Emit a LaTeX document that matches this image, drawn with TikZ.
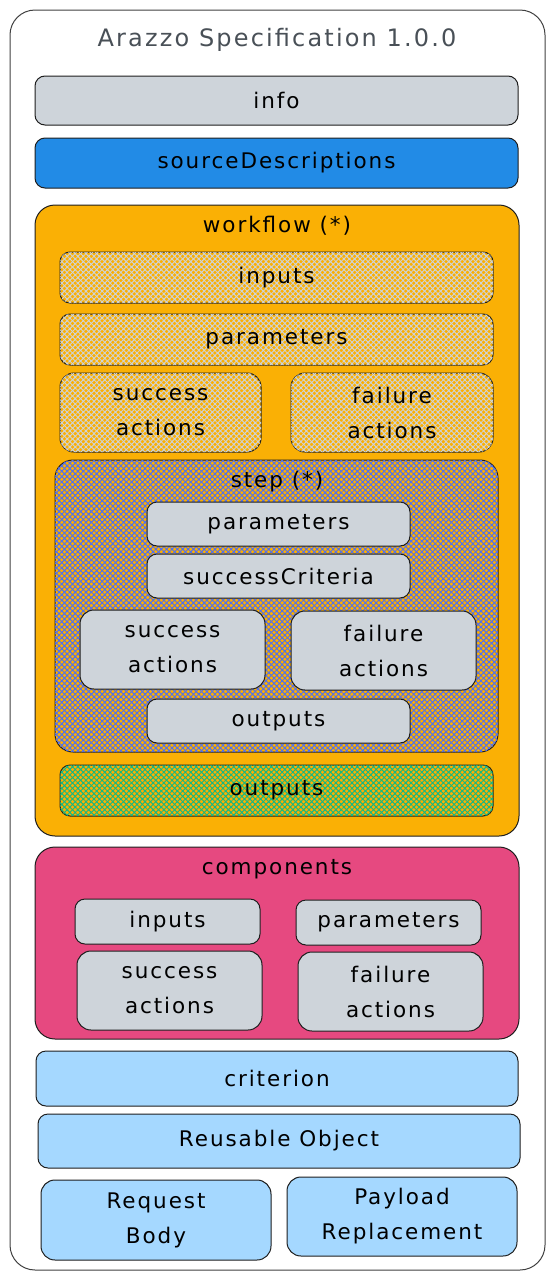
\documentclass[tikz,border=0pt]{standalone}
\usepackage{fontspec}
\setmainfont{DejaVu Sans}[LetterSpace=9]
\usetikzlibrary{patterns.meta}
\definecolor{linec}{HTML}{1E1E1E}
\definecolor{titlec}{HTML}{495057}
\definecolor{grayc}{HTML}{CED4DA}
\definecolor{bluec}{HTML}{228BE6}
\definecolor{orangec}{HTML}{FAB005}
\definecolor{pinkc}{HTML}{E64980}
\definecolor{lightbluec}{HTML}{A5D8FF}
\definecolor{hatchblue}{HTML}{4C6EF5}
\definecolor{hatchgreen}{HTML}{12B886}
\tikzset{
  box/.style={draw=linec, line width=1pt, rounded corners=10pt, align=center,
    font=\fontsize{21.5}{35}\selectfont, text=black, inner sep=0pt},
  hatchbox/.style={box, fill=orangec,
    postaction={pattern={Lines[angle=45,distance=3.8pt,line width=0.95pt]}, pattern color=#1},
    postaction={pattern={Lines[angle=-45,distance=3.8pt,line width=0.95pt]}, pattern color=#1}},
  boxtitle/.style={font=\fontsize{21.5}{24}\selectfont, text=black, inner sep=0pt}
}
\begin{document}
\begin{tikzpicture}[x=1pt,y=-1pt]
\useasboundingbox (0,0) rectangle (554,1280);
\node[draw=linec!85, line width=1pt, rounded corners=25pt, minimum width=535pt, minimum height=1260pt, inner sep=0pt] (outer) at (277.5,640) {};
\node[text=titlec, font=\fontsize{24}{26}\selectfont, inner sep=0pt] (title) at (277,40) {Arazzo Specification 1.0.0};
\node[box, fill=grayc, minimum width=483pt, minimum height=49pt] (info) at (276.5,100.5) {info};
\node[box, fill=bluec, minimum width=483pt, minimum height=50pt] (src) at (276.5,163) {sourceDescriptions};
% workflow
\node[box, fill=orangec, rounded corners=20pt, minimum width=484pt, minimum height=631pt] (wf) at (277,520.5) {};
\node[boxtitle] (wftitle) at (277,226) {workflow (*)};
\node[hatchbox=grayc, minimum width=433pt, minimum height=51pt] (wfin) at (276.5,277.5) {inputs};
\node[hatchbox=grayc, minimum width=433pt, minimum height=51pt] (wfpar) at (276.5,339.5) {parameters};
\node[hatchbox=grayc, rounded corners=14pt, minimum width=201pt, minimum height=79pt] (wfsucc) at (160.5,412.5) {success\\actions};
\node[hatchbox=grayc, rounded corners=14pt, minimum width=202pt, minimum height=79pt] (wffail) at (392,412.5) {failure\\actions};
% step
\node[hatchbox=hatchblue, rounded corners=18pt, minimum width=443pt, minimum height=292pt] (step) at (276.5,606) {};
\node[boxtitle] (steptitle) at (277,482) {step (*)};
\node[box, fill=grayc, minimum width=263pt, minimum height=44pt] (stpar) at (278.5,524) {parameters};
\node[box, fill=grayc, minimum width=263pt, minimum height=44pt] (stsc) at (278.5,576) {successCriteria};
\node[box, fill=grayc, rounded corners=14pt, minimum width=185pt, minimum height=79pt] (stsucc) at (172.5,649.5) {success\\actions};
\node[box, fill=grayc, rounded corners=14pt, minimum width=185pt, minimum height=79pt] (stfail) at (383.5,650.5) {failure\\actions};
\node[box, fill=grayc, minimum width=263pt, minimum height=44pt] (stout) at (278.5,721) {outputs};
\node[hatchbox=hatchgreen, minimum width=433pt, minimum height=51pt] (wfout) at (276.5,790.5) {outputs};
% components
\node[box, fill=pinkc, rounded corners=20pt, minimum width=484pt, minimum height=192pt] (comp) at (277,943) {};
\node[boxtitle] (comptitle) at (277,869) {components};
\node[box, fill=grayc, minimum width=185pt, minimum height=45pt] (cin) at (167.5,921.5) {inputs};
\node[box, fill=grayc, minimum width=185pt, minimum height=45pt] (cpar) at (388.5,922.5) {parameters};
\node[box, fill=grayc, rounded corners=14pt, minimum width=185pt, minimum height=79pt] (csucc) at (169.5,990.5) {success\\actions};
\node[box, fill=grayc, rounded corners=14pt, minimum width=185pt, minimum height=79pt] (cfail) at (390.5,991.5) {failure\\actions};
% bottom
\node[box, fill=lightbluec, minimum width=482pt, minimum height=55pt] (crit) at (277,1078.5) {criterion};
\node[box, fill=lightbluec, minimum width=482pt, minimum height=54pt] (reuse) at (279,1141) {Reusable Object};
\node[box, fill=lightbluec, rounded corners=14pt, minimum width=230pt, minimum height=80pt] (rb) at (156,1220) {Request\\Body};
\node[box, fill=lightbluec, rounded corners=14pt, minimum width=230pt, minimum height=79pt] (pr) at (402,1216.5) {Payload\\Replacement};
\end{tikzpicture}
\end{document}
